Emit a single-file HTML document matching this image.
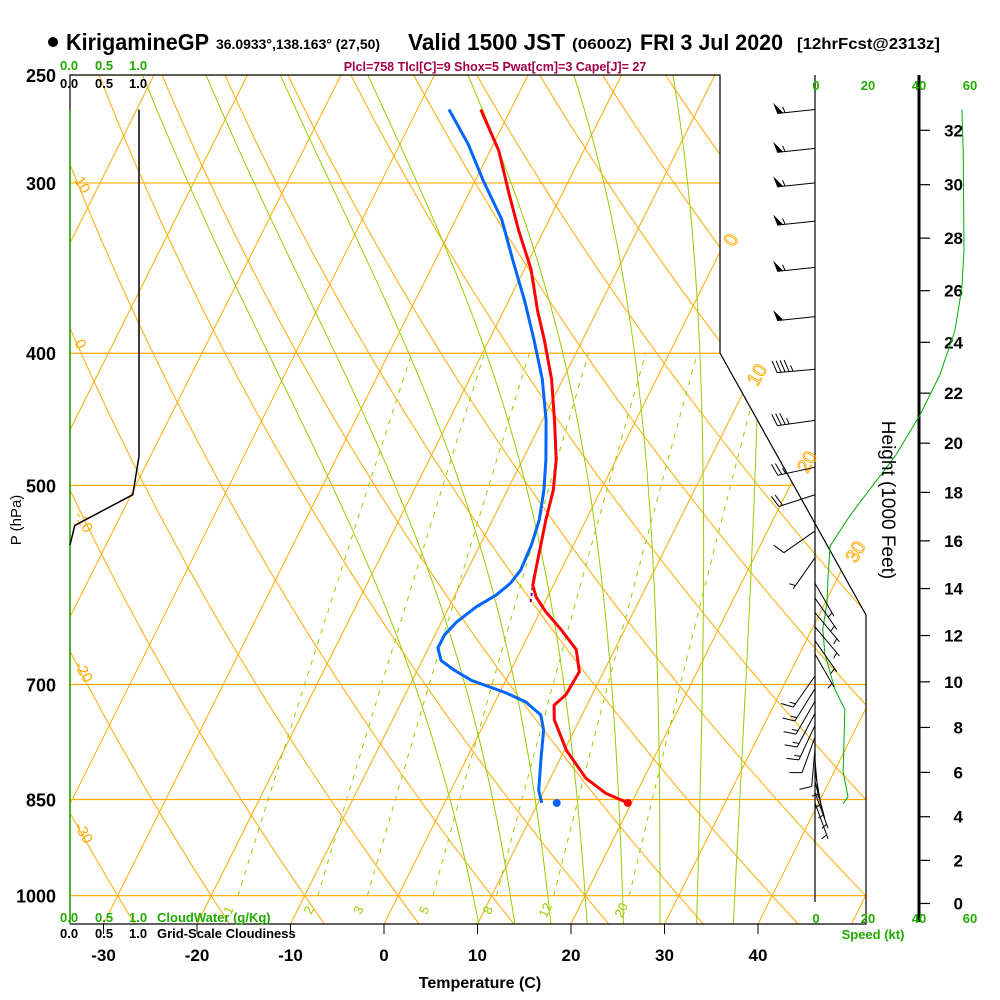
<!DOCTYPE html>
<html><head><meta charset="utf-8"><style>
html,body{margin:0;padding:0;background:#fff;}
svg{display:block;font-family:"Liberation Sans",Arial,sans-serif;}
</style></head><body>
<svg id="chart" width="1000" height="1000" viewBox="0 0 1000 1000" xmlns="http://www.w3.org/2000/svg">
<defs><clipPath id="plotclip"><polygon points="70,75 720,75 720,353 866,615 866,924 70,924"/></clipPath></defs>
<g id="title">
<circle cx="53" cy="42" r="5" fill="#000"/>
<text x="66" y="50" font-size="23" font-weight="bold" textLength="143" lengthAdjust="spacingAndGlyphs">KirigamineGP</text>
<text x="216" y="49" font-size="14" font-weight="bold" textLength="164" lengthAdjust="spacingAndGlyphs">36.0933°,138.163° (27,50)</text>
<text x="408" y="50" font-size="23" font-weight="bold" textLength="157" lengthAdjust="spacingAndGlyphs">Valid 1500 JST</text>
<text x="572" y="49" font-size="15" font-weight="bold" textLength="60" lengthAdjust="spacingAndGlyphs">(0600Z)</text>
<text x="640" y="50" font-size="22" font-weight="bold" textLength="143" lengthAdjust="spacingAndGlyphs">FRI 3 Jul 2020</text>
<text x="797" y="49" font-size="16" font-weight="bold" textLength="143" lengthAdjust="spacingAndGlyphs">[12hrFcst@2313z]</text>
</g>
<text x="495" y="71" font-size="12.5" fill="#a0004a" text-anchor="middle" font-weight="bold">Plcl=758 Tlcl[C]=9 Shox=5 Pwat[cm]=3 Cape[J]= 27</text>
<g id="grid" clip-path="url(#plotclip)"></g>
<g id="frame" fill="none" stroke="#000" stroke-width="1.2">
<polyline points="70,924 70,75 720,75 720,353 866,615 866,924 70,924"/>
<line x1="815" y1="75" x2="815" y2="902"/>
<line x1="919" y1="75" x2="919" y2="922" stroke-width="3"/>
</g>
<g id="labels"></g>
<g id="data"></g>
<text x="480" y="988" font-size="16" font-weight="bold" text-anchor="middle">Temperature (C)</text>
<text transform="translate(21,520) rotate(-90)" font-size="15" text-anchor="middle">P (hPa)</text>
<text transform="translate(882,500) rotate(90)" font-size="19" text-anchor="middle">Height (1000 Feet)</text>
<g font-size="13" font-weight="bold">
<text x="60" y="70" fill="#22aa00">0.0</text><text x="95" y="70" fill="#22aa00">0.5</text><text x="129" y="70" fill="#22aa00">1.0</text>
<text x="60" y="88">0.0</text><text x="95" y="88">0.5</text><text x="129" y="88">1.0</text>
<text x="60" y="922" fill="#22aa00">0.0</text><text x="95" y="922" fill="#22aa00">0.5</text><text x="129" y="922" fill="#22aa00">1.0</text>
<text x="157" y="922" fill="#22aa00">CloudWater (g/Kg)</text>
<text x="60" y="938">0.0</text><text x="95" y="938">0.5</text><text x="129" y="938">1.0</text>
<text x="157" y="938">Grid-Scale Cloudiness</text>
</g>
<g font-size="13" font-weight="bold" fill="#22aa00" text-anchor="middle">
<text x="816" y="90">0</text><text x="868" y="90">20</text><text x="919" y="90">40</text><text x="970" y="90">60</text>
<text x="816" y="923">0</text><text x="868" y="923">20</text><text x="919" y="923">40</text><text x="970" y="923">60</text>
<text x="873" y="939">Speed (kt)</text>
</g>
<script>
// ---- data ----
const tempP = [855,841,820,782,743,725,712,685,660,638,619,604,592,577,553,530,504,479,448,418,391,372,347,325,306,284,265];
const tempC = [19.6,16.7,13.8,10.2,7.3,6.5,7.2,7.4,5.9,3.2,0.6,-1.2,-2.2,-2.7,-3.5,-4.3,-5.1,-6.4,-8.7,-11.2,-14.1,-16.4,-19.3,-22.7,-25.6,-29.1,-33.2];
const dewP = [855,837,795,756,737,721,710,695,683,672,658,644,630,614,602,590,577,553,530,504,479,448,418,391,366,342,319,299,281,265];
const dewC = [10.4,9.4,8.0,6.7,5.6,3.3,0.7,-3.7,-6.1,-8.0,-9.0,-9.0,-8.4,-7.1,-5.6,-4.7,-4.3,-4.5,-5.0,-6.1,-7.5,-9.6,-12.2,-15.2,-18.3,-21.7,-25.1,-29.1,-32.7,-36.6];
const sfcP = 855, sfcT = 19.6, sfcTd = 12.0;
const cloudP = [265,476,508,535,553];
const cloudFrac = [1.0,1.0,0.91,0.07,0.0];
const speedP = [265,284,336,358,385,415,444,476,503,526,554,584,610,637,665,706,730,811,846,856];
const speedKt = [56.5,57,57.3,56.5,53.8,48,40.4,30.8,21.2,13.5,5.8,5,4.6,3,3.8,7.7,11.5,10.8,12.7,10.8];
const windP = [265,283,300,320,346,376,411,448,485,508,540,565,590,605,620,635,650,665,690,705,720,735,750,765,780,795,810,825,840,855];
const windDir = [264,264,264,264,264,264,265,262,258,252,235,215,150,145,140,140,145,150,215,212,210,208,205,200,185,175,170,165,160,160];
const windKt = [57,57,57,56,54,52,45,35,25,20,10,5,5,5,5,5,5,5,15,15,15,15,15,10,10,5,5,5,5,5];
const pLevels = [250,300,400,500,700,850,1000];
const tTicks = [-30,-20,-10,0,10,20,30,40];
const hTicks = [0,2,4,6,8,10,12,14,16,18,20,22,24,26,28,30,32];
const mixW = [1,2,3,5,8,12,20];
const thetaW = [8,12,16,20,24,28,32,36];
const thetaD = [];
for (let t=-70;t<=220;t+=10) thetaD.push(t);
const isoT = [];
for (let t=-150;t<=60;t+=10) isoT.push(t);

// ---- axes ----
const NS='http://www.w3.org/2000/svg';
function yP(p){return 75+592*Math.log(p/250);}
function xT(T,p){return 384+9.35*T+0.5*(924-yP(p));}
function xS(s){return 815+2.6*s;}
function mk(tag,attrs,parent){const e=document.createElementNS(NS,tag);for(const k in attrs)e.setAttribute(k,attrs[k]);parent.appendChild(e);return e;}
const grid=document.getElementById('grid'), labels=document.getElementById('labels'), dataG=document.getElementById('data');
function pts(arr){return arr.map(a=>a[0].toFixed(1)+','+a[1].toFixed(1)).join(' ');}
const ORG='#ffaa00', GRN='#99cc00';

pLevels.forEach(p=>{
  const l=mk('line',{x1:70,x2:870,y1:yP(p),y2:yP(p),stroke:ORG,'stroke-width':1.2},grid);
  
  
  const t=mk('text',{x:56,y:yP(p)+7,'font-size':18,'font-weight':'bold','text-anchor':'end'},labels);
  t.textContent=p;
  
  
});
isoT.forEach(T=>{
  const l=mk('line',{x1:xT(T,1060),y1:yP(1060),x2:xT(T,245),y2:yP(245),stroke:ORG,'stroke-width':1},grid);
  
  
});
thetaD.forEach(th=>{
  const a=[];for(let p=1060;p>=240;p-=10){const T=(th+273.15)*Math.pow(p/1000,0.2857)-273.15;a.push([xT(T,p),yP(p)]);}
  const l=mk('polyline',{points:pts(a),fill:'none',stroke:ORG,'stroke-width':1},grid);
  
  
});
function es(Tc){return 6.112*Math.exp(17.67*Tc/(Tc+243.5));}
function dTdp(T,p){const Tc=T-273.15;const e=es(Tc);const rs=0.622*e/(p-e);return (1/p)*(287*T+2.5e6*rs)/(1005+(2.5e6*2.5e6*rs*0.622)/(287*T*T));}
thetaW.forEach(tw=>{
  let a=[];let T=tw+273.15;
  for(let p=1000;p<=1060;p+=5){a.push([xT(T-273.15,p),yP(p)]);T+=dTdp(T,p)*5;}
  a.reverse();T=tw+273.15;
  for(let p=1000;p>=240;p-=5){if(p<1000)a.push([xT(T-273.15,p),yP(p)]);T-=dTdp(T,p)*5;}
  const l=mk('polyline',{points:pts(a),fill:'none',stroke:GRN,'stroke-width':1},grid);
  
  
});
function tdFromW(w,p){const e=w*p/(622+w);const L=Math.log(e/6.112);return 243.5*L/(17.67-L);}
mixW.forEach(w=>{
  const a=[];for(let p=1000;p>=400;p-=10)a.push([xT(tdFromW(w,p),p),yP(p)]);
  const l=mk('polyline',{points:pts(a),fill:'none',stroke:GRN,'stroke-width':1,'stroke-dasharray':'5,6'},grid);
  
  
  const x=xT(tdFromW(w,1030),1030);
  const t=mk('text',{transform:'translate('+x.toFixed(1)+',912) rotate(-65)','font-size':13,fill:GRN,'text-anchor':'middle'},labels);
  t.textContent=w;
  
  
});
[[0,243],[10,378],[20,465],[30,555]].forEach(([T,y])=>{
  const p=250*Math.exp((y-75)/592);const x=xT(T,p)+12;
  const t=mk('text',{transform:'translate('+x.toFixed(1)+','+y+') rotate(-60)','font-size':19,fill:'none',stroke:ORG,'stroke-width':0.9,'text-anchor':'middle'},labels);
  t.textContent=T;
  
  
});
[['10',180],['0',343],['-10',515],['-20',665],['-30',826]].forEach(([s,y])=>{
  const t=mk('text',{transform:'translate(74,'+y+') rotate(60)','font-size':15,fill:ORG,'text-anchor':'start'},labels);
  t.textContent=s;
  
  
});
tTicks.forEach(T=>{
  const x=384+9.35*T;
  mk('line',{x1:x,x2:x,y1:924,y2:934,stroke:'#000'},labels);
  const t=mk('text',{x:x,y:961,'font-size':17,'font-weight':'bold','text-anchor':'middle'},labels);
  t.textContent=T;
  
  
});
hTicks.forEach(h=>{
  const p=1013.25*Math.pow(1-6.8756e-6*h*1000,5.2559);const y=yP(p);
  mk('line',{x1:919,x2:930,y1:y,y2:y,stroke:'#000','stroke-width':1.2},labels);
  const t=mk('text',{x:963,y:y+6,'font-size':17,'font-weight':'bold','text-anchor':'end'},labels);
  t.textContent=h;
  
  
});
const cw=mk('line',{x1:70,x2:70,y1:110,y2:924,stroke:'#22aa00','stroke-width':1.5},dataG);


const cl=mk('polyline',{points:pts(cloudP.map((p,i)=>[70+69*cloudFrac[i],yP(p)])),fill:'none',stroke:'#000','stroke-width':1.5},dataG);


const sp=mk('polyline',{points:pts(speedP.map((p,i)=>[xS(speedKt[i]),yP(p)])),fill:'none',stroke:'#00aa00','stroke-width':1},dataG);


windP.forEach((p,i)=>{
  const g=mk('g',{},dataG);
  
  
  const d=windDir[i]*Math.PI/180;const ux=Math.sin(d),uy=-Math.cos(d);const L=38;
  const x0=815,y0=yP(p);const x1=x0+ux*L,y1=y0+uy*L;
  mk('line',{x1:x0,y1:y0,x2:x1,y2:y1,stroke:'#000','stroke-width':1},g);
  const fx=-uy,fy=ux;let s=windKt[i];let pos=0;
  while(s>=47.5){const ax=x1-ux*pos,ay=y1-uy*pos;
    mk('polygon',{points:pts([[ax,ay],[ax+fx*11+ux*3,ay+fy*11+uy*3],[ax-ux*6,ay-uy*6]]),fill:'#000'},g);pos+=8;s-=50;}
  while(s>=7.5){const ax=x1-ux*pos,ay=y1-uy*pos;mk('line',{x1:ax,y1:ay,x2:ax+fx*12+ux*4,y2:ay+fy*12+uy*4,stroke:'#000'},g);pos+=4;s-=10;}
  if(s>=2.5){if(pos===0)pos=4;const ax=x1-ux*pos,ay=y1-uy*pos;mk('line',{x1:ax,y1:ay,x2:ax+fx*6+ux*2,y2:ay+fy*6+uy*2,stroke:'#000'},g);}
});
const pm=mk('polyline',{points:pts([[xT(-2.6,582),yP(582)],[xT(-1.5,610),yP(610)]]),fill:'none',stroke:'#800080','stroke-width':2,'stroke-dasharray':'3,3'},dataG);


const tl=mk('polyline',{points:pts(tempP.map((p,i)=>[xT(tempC[i],p),yP(p)])),fill:'none',stroke:'#ff0000','stroke-width':3,'stroke-linejoin':'round'},dataG);


const dl=mk('polyline',{points:pts(dewP.map((p,i)=>[xT(dewC[i],p),yP(p)])),fill:'none',stroke:'#0066ff','stroke-width':3,'stroke-linejoin':'round'},dataG);


const st=mk('circle',{cx:xT(sfcT,sfcP),cy:yP(sfcP),r:4,fill:'#ff0000'},dataG);


const sd=mk('circle',{cx:xT(sfcTd,sfcP),cy:yP(sfcP),r:4,fill:'#0066ff'},dataG);


</script>
</svg>
</body></html>
